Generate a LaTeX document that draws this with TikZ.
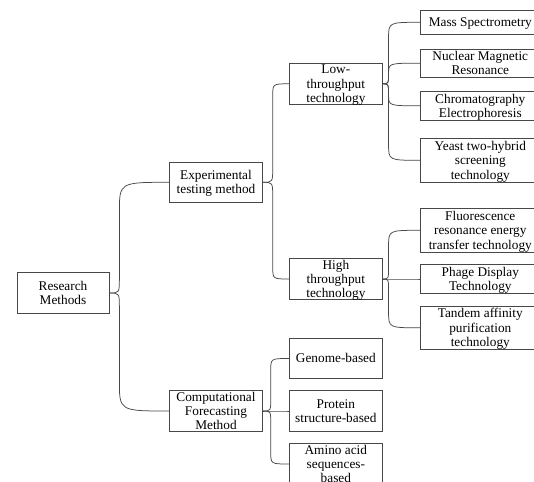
\documentclass[tikz,border=0pt]{standalone}
\usepackage{fontspec}
\setmainfont{Liberation Serif}
\usetikzlibrary{calc}
\tikzset{
  box/.style={draw=black!72, line width=0.75pt, fill=white, inner sep=0pt,
    font=\fontsize{13.3}{14.3}\selectfont},
  midbox/.style={box, minimum width=92.7pt, minimum height=40.4pt},
  rbox/.style={box, minimum width=120pt},
  conn/.style={draw=black!72, line width=0.75pt},
}
\newcommand\topstrut{\rule{0pt}{11.85pt}}
\newcommand\botstrut{\rule[-2.9pt]{0pt}{2.9pt}}
\newcommand\tbox[1]{\makebox[0pt]{\vbox to 0pt{\vss\hsize=200pt\centering\topstrut #1\botstrut\par\vss}}}
\newcommand\linkto[5]{%
  \draw[conn] let \p1=(#1.east), \p2=(#2.west),
    \n1={min(#4,abs(\y2-\y1)/2)},
    \n2={min(#5,abs(\y2-\y1)-\n1)},
    \n3={sign(\y2-\y1)} in
    (\p1) .. controls ({\x1+#3pt},\y1) .. ({\x1+#3pt},{\y1+\n3*\n1})
    -- ({\x1+#3pt},{\y2-\n3*\n2}) .. controls ({\x1+#3pt},\y2) .. (\p2);}
\begin{document}
\begin{tikzpicture}[x=1pt,y=-1pt]
\useasboundingbox (0,0) rectangle (534,481);
\clip (0,0) rectangle (534,481);
\fill[white] (0,0) rectangle (534,481);

\node[box, minimum width=92pt, minimum height=40.6pt] (rm) at (63,293) {\tbox{Research\\Methods}};
\node[midbox] (et) at (216,182.3) {\tbox{Experimental\\testing method}};
\node[midbox] (cf) at (216,411) {\tbox{Computational\\Forecasting\\Method}};
\node[midbox] (lt) at (335.85,83.8) {\tbox{Low-\\throughput\\technology}};
\node[midbox] (ht) at (335.85,279) {\tbox{High\\throughput\\technology}};
\node[midbox] (gb) at (335.85,358.5) {\tbox{Genome-based}};
\node[midbox] (ps) at (335.85,411) {\tbox{Protein\\structure-based}};
\node[midbox] (aa) at (335.85,464) {\tbox{Amino acid\\sequences-\\based}};

\node[rbox, minimum height=24pt] (ms) at (480.3,22.3) {\tbox{Mass Spectrometry}};
\node[rbox, minimum height=28.3pt] (nmr) at (480.3,63.2) {\tbox{Nuclear Magnetic\\Resonance}};
\node[rbox, minimum height=28.3pt] (ce) at (480.3,105.8) {\tbox{Chromatography\\Electrophoresis}};
\node[rbox, minimum height=44pt] (y2h) at (480.3,160.3) {\tbox{Yeast two-hybrid\\screening\\technology}};
\node[rbox, minimum height=44pt] (fret) at (480.3,230.3) {\tbox{Fluorescence\\resonance energy\\transfer technology}};
\node[rbox, minimum height=29pt] (pd) at (480.3,279) {\tbox{Phage Display\\Technology}};
\node[rbox, minimum height=43pt] (tap) at (480.3,327.8) {\tbox{Tandem affinity\\purification\\technology}};

\linkto{rm}{et}{10}{15}{30}
\linkto{rm}{cf}{10}{15}{30}
\linkto{et}{lt}{10}{15}{12}
\linkto{et}{ht}{10}{15}{12}
\linkto{cf}{gb}{8}{12}{12}
\linkto{cf}{ps}{8}{12}{12}
\linkto{cf}{aa}{8}{12}{12}
\linkto{lt}{ms}{6}{12}{16}
\linkto{lt}{nmr}{6}{12}{16}
\linkto{lt}{ce}{6}{12}{16}
\linkto{lt}{y2h}{6}{12}{16}
\linkto{ht}{fret}{6}{12}{16}
\linkto{ht}{pd}{6}{12}{16}
\linkto{ht}{tap}{6}{12}{16}
\end{tikzpicture}
\end{document}
